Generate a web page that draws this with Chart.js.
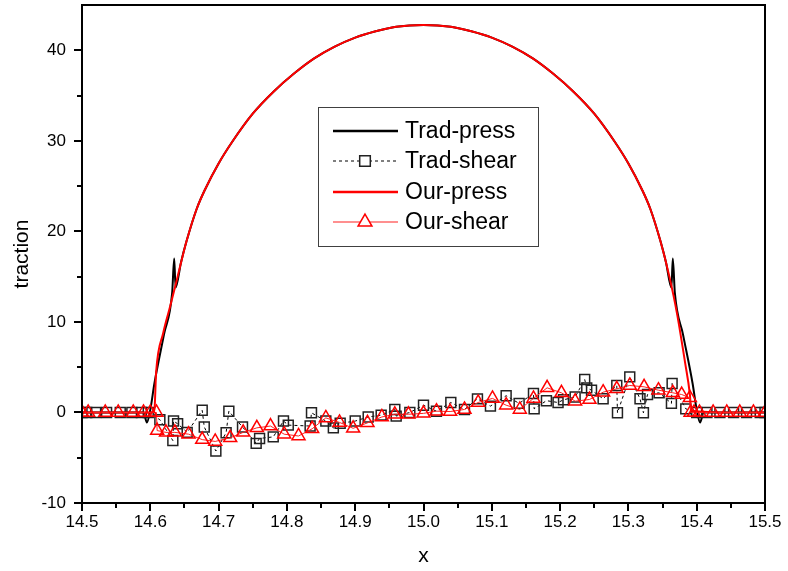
<!DOCTYPE html>
<html>
<head>
<meta charset="utf-8">
<script src="https://cdn.jsdelivr.net/npm/chart.js@4.4.1/dist/chart.umd.min.js"></script>
<style>
  html, body { margin: 0; padding: 0; background: #fff; }
  #wrap { position: relative; width: 788px; height: 571px; }
</style>
</head>
<body>
<div id="wrap"><canvas id="c"></canvas></div>
<script>
// Axis ticks
const xTicks = [14.5, 14.6, 14.7, 14.8, 14.9, 15.0, 15.1, 15.2, 15.3, 15.4, 15.5];
const xTickLabels = ['14.5', '14.6', '14.7', '14.8', '14.9', '15.0', '15.1', '15.2', '15.3', '15.4', '15.5'];
const yTicks = [-10, 0, 10, 20, 30, 40];
const yTickLabels = ['-10', '0', '10', '20', '30', '40'];

// Contact pressure, traditional scheme
const tradPressX = [14.5, 14.59, 14.595, 14.600, 14.606, 14.62, 14.632, 14.635, 14.637, 14.645, 14.653, 14.668,
  14.68, 14.70, 14.72, 14.75, 14.78, 14.81, 14.84, 14.87, 14.90, 14.93, 14.96, 15.0,
  15.04, 15.07, 15.10, 15.13, 15.16, 15.19, 15.22, 15.25, 15.28, 15.30, 15.32,
  15.332, 15.347, 15.355, 15.363, 15.365, 15.368, 15.38, 15.394, 15.400, 15.405, 15.41, 15.5];
const tradPressY = [0, 0, -1.1, 0.3, 3.2, 8.6, 13.2, 17.0, 13.8, 16.6, 18.9, 22.5,
  24.6, 27.5, 29.9, 33.0, 35.4, 37.4, 39.1, 40.4, 41.4, 42.1, 42.6, 42.8,
  42.6, 42.1, 41.4, 40.4, 39.1, 37.4, 35.4, 33.0, 29.9, 27.5, 24.6,
  22.5, 18.9, 16.6, 13.8, 17.0, 13.2, 8.6, 3.2, 0.3, -1.1, 0, 0];

// Contact pressure, our scheme
const ourPressX = [14.5, 14.55, 14.6, 14.606, 14.6085, 14.619, 14.629, 14.64, 14.653, 14.668,
  14.68, 14.70, 14.72, 14.75, 14.78, 14.81, 14.84, 14.87, 14.90, 14.93, 14.96, 15.0,
  15.04, 15.07, 15.10, 15.13, 15.16, 15.19, 15.22, 15.25, 15.28, 15.30, 15.32,
  15.332, 15.347, 15.36, 15.371, 15.383, 15.390, 15.392, 15.45, 15.5];
const ourPressY = [0, 0, 0, 0.3, 4.4, 8.8, 11.7, 15.0, 18.9, 22.5,
  24.6, 27.5, 29.9, 33.0, 35.4, 37.4, 39.1, 40.4, 41.4, 42.1, 42.6, 42.8,
  42.6, 42.1, 41.4, 40.4, 39.1, 37.4, 35.4, 33.0, 29.9, 27.5, 24.6,
  22.5, 18.9, 15.0, 11.0, 5.5, 2.0, 0.2, 0, 0];

// Shear traction, traditional scheme
const tradShearX = [14.5, 14.507, 14.52, 14.536, 14.556, 14.573, 14.587, 14.597,
  14.614, 14.633, 14.634, 14.640, 14.654, 14.676, 14.679, 14.696, 14.711, 14.715,
  14.735, 14.755, 14.760, 14.780, 14.795, 14.802, 14.834, 14.836, 14.857, 14.868,
  14.878, 14.900, 14.919, 14.938, 14.958, 14.960, 14.980, 15.000, 15.019, 15.040,
  15.060, 15.079, 15.098, 15.121, 15.140, 15.161, 15.162, 15.180, 15.197, 15.205,
  15.222, 15.236, 15.239, 15.246, 15.263, 15.283, 15.284, 15.302, 15.317, 15.322,
  15.328, 15.345, 15.363, 15.364, 15.384, 15.400, 15.415, 15.434, 15.454, 15.473, 15.493, 15.5];
const tradShearY = [0, 0, 0, 0, 0, 0, 0, 0,
  -0.8, -3.1, -0.95, -1.25, -2.2, 0.24, -1.6, -4.26, -2.24, 0.14,
  -1.6, -3.42, -2.87, -2.7, -0.95, -1.4, -1.5, -0.04, -0.95, -1.7,
  -1.2, -0.95, -0.5, -0.3, 0.33, -0.4, 0.0, 0.8, 0.14, 1.1,
  0.33, 1.5, 0.7, 1.85, 1.0, 2.1, 0.4, 1.3, 1.1, 1.4,
  1.7, 3.64, 2.72, 2.46, 1.51, 2.98, -0.04, 3.93, 1.51, -0.04,
  1.98, 2.17, 1.0, 3.2, 0.4, 0, 0, 0, 0, 0, 0, 0];

// Shear traction, our scheme
const ourShearX = [14.5, 14.509, 14.534, 14.553, 14.575, 14.59, 14.6, 14.609,
  14.610, 14.623, 14.636, 14.656, 14.676, 14.695, 14.717, 14.736, 14.756, 14.776,
  14.796, 14.817, 14.837, 14.857, 14.877, 14.897, 14.918, 14.939, 14.958, 14.978,
  15.0, 15.019, 15.039, 15.06, 15.08, 15.101, 15.121, 15.141, 15.161, 15.181,
  15.202, 15.222, 15.243, 15.263, 15.283, 15.302, 15.323, 15.344, 15.365, 15.378,
  15.390, 15.391, 15.396, 15.404, 15.424, 15.444, 15.463, 15.483, 15.5];
const ourShearY = [0, 0, 0, 0, 0, 0, 0, 0,
  -2.0, -2.2, -2.2, -2.4, -3.0, -3.2, -2.8, -2.2, -1.7, -1.5,
  -2.4, -2.6, -1.8, -0.6, -1.1, -1.75, -1.15, -0.5, -0.2, -0.2,
  -0.1, 0.14, 0.1, 0.33, 1.1, 1.55, 0.8, 0.33, 1.55, 2.72,
  2.17, 1.25, 1.43, 2.24, 2.61, 2.98, 2.83, 2.46, 2.17, 1.98,
  1.62, 0, 0, 0, 0, 0, 0, 0, 0];

const pairs = (xs, ys) => xs.map((x, i) => ({ x: x, y: ys[i] }));

const FONT = "'Liberation Sans', Arial, sans-serif";

// Fixed axis box sizes; no extra room reserved for overhanging labels
const fixBox = (s, w, h) => {
  if (w !== null) s.width = w;
  if (h !== null) s.height = h;
  s.paddingTop = 0; s.paddingBottom = 0; s.paddingLeft = 0; s.paddingRight = 0;
};

// Frame around the plot area plus outward major/minor ticks
const framePlugin = {
  id: 'frame',
  afterDatasetsDraw(chart) {
    const { ctx, chartArea: a, scales } = chart;
    ctx.save();
    ctx.strokeStyle = '#000';
    ctx.lineWidth = 2;
    ctx.strokeRect(a.left, a.top, a.right - a.left, a.bottom - a.top);
    ctx.beginPath();
    for (let i = 0; i <= 20; i++) {
      const v = 14.5 + i * 0.05;
      const px = Math.round(scales.x.getPixelForValue(v));
      const len = i % 2 === 0 ? 8 : 5;
      ctx.moveTo(px, a.bottom);
      ctx.lineTo(px, a.bottom + len);
    }
    for (let i = 0; i <= 10; i++) {
      const v = -10 + i * 5;
      const py = Math.round(scales.y.getPixelForValue(v));
      const len = i % 2 === 0 ? 8 : 5;
      ctx.moveTo(a.left, py);
      ctx.lineTo(a.left - len, py);
    }
    ctx.stroke();
    ctx.restore();
  }
};

// Boxed legend inside the plot area
const boxLegendPlugin = {
  id: 'boxLegend',
  afterDraw(chart) {
    const ctx = chart.ctx;
    const box = { x: 318.5, y: 107.5, w: 220, h: 139 };
    const rows = [131, 161, 192, 222];
    ctx.save();
    ctx.fillStyle = '#fff';
    ctx.fillRect(box.x, box.y, box.w, box.h);
    ctx.strokeStyle = '#404040';
    ctx.lineWidth = 1;
    ctx.strokeRect(box.x, box.y, box.w, box.h);
    chart.data.datasets.forEach((ds, i) => {
      const y = rows[i];
      ctx.save();
      ctx.strokeStyle = ds.borderColor;
      ctx.lineWidth = ds.label.endsWith('press') ? 2.5 : 1.2;
      ctx.setLineDash(ds.borderDash || []);
      ctx.beginPath();
      ctx.moveTo(333, y);
      ctx.lineTo(398, y);
      ctx.stroke();
      ctx.setLineDash([]);
      if (ds.pointRadius > 0) {
        ctx.fillStyle = '#fff';
        ctx.strokeStyle = ds.pointBorderColor;
        ctx.lineWidth = ds.pointBorderWidth;
        Chart.helpers.drawPoint(ctx, {
          pointStyle: ds.pointStyle, radius: ds.pointRadius + 0.5,
          borderWidth: ds.pointBorderWidth, rotation: 0
        }, 365, y);
      }
      ctx.restore();
      ctx.fillStyle = '#000';
      ctx.font = '23px ' + FONT;
      ctx.textBaseline = 'middle';
      ctx.textAlign = 'left';
      ctx.fillText(ds.label, 405, y + 1);
    });
    ctx.restore();
  }
};

new Chart(document.getElementById('c'), {
  type: 'scatter',
  data: {
    datasets: [
      {
        label: 'Trad-press', data: pairs(tradPressX, tradPressY), showLine: true,
        borderColor: '#000', borderWidth: 2, pointRadius: 0,
        cubicInterpolationMode: 'monotone', order: 4
      },
      {
        label: 'Trad-shear', data: pairs(tradShearX, tradShearY), showLine: true,
        borderColor: '#000', borderWidth: 1, borderDash: [3, 3],
        pointStyle: 'rect', pointRadius: 7, pointBorderWidth: 1.5,
        pointBorderColor: '#222', pointBackgroundColor: 'rgba(0,0,0,0)', order: 3
      },
      {
        label: 'Our-press', data: pairs(ourPressX, ourPressY), showLine: true,
        borderColor: '#ff0000', borderWidth: 2, pointRadius: 0,
        cubicInterpolationMode: 'monotone', order: 2
      },
      {
        label: 'Our-shear', data: pairs(ourShearX, ourShearY), showLine: true,
        borderColor: '#ff2020', borderWidth: 1,
        pointStyle: 'triangle', pointRadius: 7.5, pointBorderWidth: 1.5,
        pointBorderColor: '#ff0000', pointBackgroundColor: 'rgba(0,0,0,0)', order: 1
      }
    ]
  },
  options: {
    animation: false,
    responsive: true,
    maintainAspectRatio: false,
    layout: { autoPadding: false, padding: { top: 5, right: 23, left: 0, bottom: 0 } },
    plugins: { legend: { display: false }, tooltip: { enabled: false } },
    scales: {
      x: {
        type: 'linear', min: 14.5, max: 15.5,
        grid: { display: false, drawTicks: false },
        border: { display: false },
        afterBuildTicks: s => { s.ticks = xTicks.map(v => ({ value: v })); },
        afterFit: s => fixBox(s, null, 68),
        ticks: {
          color: '#000', padding: 9, maxRotation: 0, autoSkip: false,
          font: { family: FONT, size: 17 },
          callback: (v, i) => xTickLabels[i]
        },
        title: {
          display: true, text: 'x', color: '#000',
          font: { family: FONT, size: 21 }, padding: { top: 0, bottom: 2 }
        }
      },
      y: {
        type: 'linear', min: -10, max: 45,
        grid: { display: false, drawTicks: false },
        border: { display: false },
        afterBuildTicks: s => { s.ticks = yTicks.map(v => ({ value: v })); },
        afterFit: s => fixBox(s, 82, null),
        ticks: {
          color: '#000', padding: 16, autoSkip: false,
          font: { family: FONT, size: 17 },
          callback: (v, i) => yTickLabels[i]
        },
        title: {
          display: true, text: 'traction', color: '#000',
          font: { family: FONT, size: 21 }, padding: { top: 10, bottom: 0 }
        }
      }
    }
  },
  plugins: [framePlugin, boxLegendPlugin]
});
</script>
</body>
</html>
